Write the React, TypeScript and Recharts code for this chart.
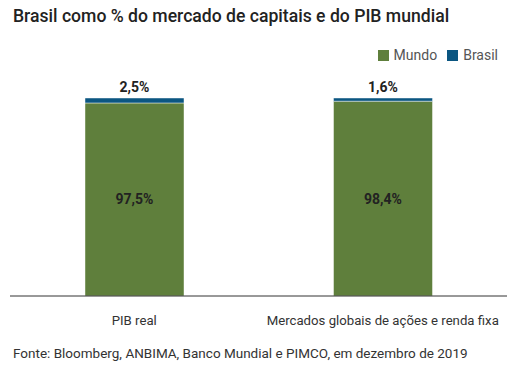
import React from "react";
import { BarChart, Bar, XAxis, YAxis, Legend, LabelList } from "recharts";

const categories = ["PIB real", "Mercados globais de ações e renda fixa"];
const mundo = [97.5, 98.4];
const brasil = [2.5, 1.6];

const data = categories.map((c, i) => ({ name: c, Mundo: mundo[i], Brasil: brasil[i] }));

const FONT = "Roboto, 'Liberation Sans', sans-serif";
const fmt = (v: any) => `${String(v).replace(".", ",")}%`;

const legendItems = [
  { label: "Mundo", color: "#5f7f3c" },
  { label: "Brasil", color: "#0b5681" },
];

const LegendContent = () => (
  <div style={{ display: "flex", alignItems: "center", fontFamily: FONT, fontSize: 14, color: "#555" }}>
    {legendItems.map((it) => (
      <div key={it.label} style={{ display: "flex", alignItems: "center", marginLeft: 10 }}>
        <span style={{ width: 11, height: 11, background: it.color, display: "inline-block", marginRight: 5 }} />
        <span>{it.label}</span>
      </div>
    ))}
  </div>
);

export default function App() {
  return (
    <div style={{ position: "absolute", left: 0, top: 0, width: 518, height: 384, background: "#fff", fontFamily: FONT }}>
      <div style={{ position: "absolute", left: 13, top: 6, fontSize: 17.6, fontWeight: 500, color: "#222", whiteSpace: "nowrap" }}>
        Brasil como % do mercado de capitais e do PIB mundial
      </div>
      <BarChart width={518} height={384} data={data} margin={{ top: 98, right: 11, bottom: 58, left: 10 }}>
        <XAxis
          dataKey="name"
          axisLine={{ stroke: "#333", strokeWidth: 1 }}
          tickLine={false}
          height={30}
          tick={{ fontFamily: FONT, fontSize: 13.2, fill: "#333" }}
          tickMargin={14}
        />
        <YAxis hide domain={[0, 100]} />
        <Legend
          verticalAlign="middle"
          content={<LegendContent />}
          wrapperStyle={{ top: 47, right: 20, left: "auto", width: "auto" }}
        />
        <Bar dataKey="Mundo" stackId="a" fill="#5f7f3c" barSize={99} isAnimationActive={false} stroke="rgba(255,255,255,0.45)" strokeWidth={1}>
          <LabelList dataKey="Mundo" position="center" formatter={fmt} style={{ fontFamily: FONT, fontSize: 14, fontWeight: 700, fill: "#222" }} />
        </Bar>
        <Bar dataKey="Brasil" stackId="a" fill="#0b5681" barSize={99} isAnimationActive={false} stroke="rgba(255,255,255,0.45)" strokeWidth={1}>
          <LabelList dataKey="Brasil" position="top" offset={6} formatter={fmt} style={{ fontFamily: FONT, fontSize: 14, fontWeight: 700, fill: "#222" }} />
        </Bar>
      </BarChart>
      <div style={{ position: "absolute", left: 13, top: 345, fontSize: 13.5, color: "#333", whiteSpace: "nowrap" }}>
        Fonte: Bloomberg, ANBIMA, Banco Mundial e PIMCO, em dezembro de 2019
      </div>
    </div>
  );
}
